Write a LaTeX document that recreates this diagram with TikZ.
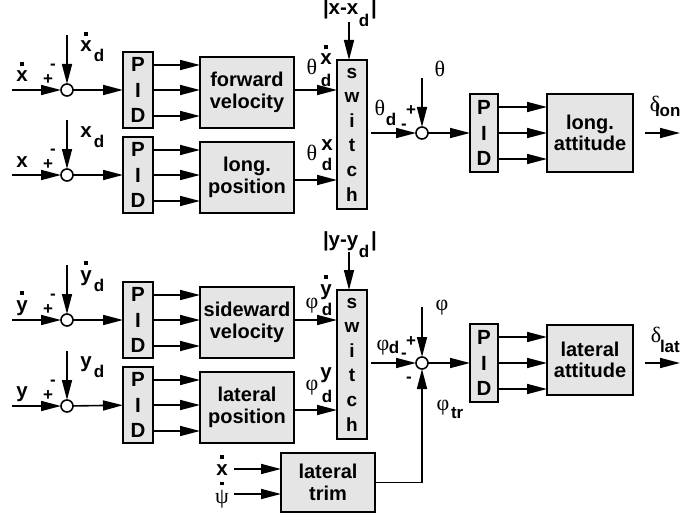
\documentclass[tikz,border=0pt]{standalone}
\usepackage{fontspec}
\setmainfont{Liberation Sans}
\newfontfamily\grk{Liberation Serif}
\usetikzlibrary{arrows.meta}
\definecolor{boxgray}{RGB}{229,229,229}
\newcommand\dotover[1]{\ooalign{#1\cr\hidewidth\raisebox{0.8em}{\rule{3.2pt}{3.2pt}}\hidewidth\cr}}
\begin{document}
\begin{tikzpicture}[x=1pt,y=-1pt,
  line width=1.6pt,
  >={Triangle[length=20pt,width=10pt]},
  every node/.style={inner sep=0pt,outer sep=0pt},
  blk/.style={draw,line width=1.9pt,fill=boxgray,align=center,font=\fontsize{20}{21.5}\selectfont\bfseries},
  pid/.style={blk,minimum width=30pt,minimum height=76pt,font=\fontsize{20.5}{25.5}\selectfont\bfseries},
  swb/.style={blk,minimum width=30pt,minimum height=149pt,font=\fontsize{19}{24.6}\selectfont\bfseries},
  sum/.style={circle,draw,fill=white,line width=1.6pt,minimum size=12pt},
  v/.style={anchor=base,font=\fontsize{20.5}{22}\selectfont\bfseries},
  sb/.style={anchor=base,font=\fontsize{17}{19}\selectfont\bfseries},
  sg/.style={font=\fontsize{17}{19}\selectfont\bfseries},
  gk/.style={anchor=base,font=\fontsize{22}{24}\selectfont\grk}]
\useasboundingbox (0,0) rectangle (687,516);

% summing junctions
\node[sum] (cA) at (67,90) {};
\node[sum] (cB) at (67,175) {};
\node[sum] (cC) at (67,320) {};
\node[sum] (cD) at (67,406) {};
\node[sum] (cE) at (422,133) {};
\node[sum] (cF) at (422,363) {};

% PID blocks
\node[pid] (p1) at (138,90) {P\\I\\D};
\node[pid] (p2) at (138,175) {P\\I\\D};
\node[pid] (p4) at (138,320) {P\\I\\D};
\node[pid] (p5) at (138,405) {P\\I\\D};
\node[pid,minimum width=28pt,minimum height=78pt] (p3) at (484,133) {P\\I\\D};
\node[pid,minimum width=28pt,minimum height=78pt] (p6) at (484,363) {P\\I\\D};

% blocks
\node[blk,minimum width=94pt,minimum height=71pt] (fv) at (247,92.5) {forward\\velocity};
\node[blk,minimum width=94pt,minimum height=71pt] (lp) at (247,177.5) {long.\\position};
\node[blk,minimum width=94pt,minimum height=71pt] (sv) at (247,322.5) {sideward\\velocity};
\node[blk,minimum width=94pt,minimum height=71pt] (lpos) at (247,407.5) {lateral\\position};
\node[blk,minimum width=86pt,minimum height=78pt] (la) at (590,133) {long.\\attitude};
\node[blk,minimum width=86pt,minimum height=70pt] (lat) at (590,360) {lateral\\attitude};
\node[blk,minimum width=94pt,minimum height=59pt] (trim) at (328,482.5) {lateral\\trim};
\node[swb] (s1) at (352,134.5) {s\\w\\i\\t\\c\\h};
\node[swb] (s2) at (352,364.5) {s\\w\\i\\t\\c\\h};

% free ends
\coordinate (iA) at (12,90);
\coordinate (iB) at (12,175);
\coordinate (iC) at (12,320);
\coordinate (iD) at (12,406);
\coordinate (tA) at (67,35);
\coordinate (tB) at (67,120);
\coordinate (tC) at (67,265);
\coordinate (tD) at (67,351);
\coordinate (tS1) at (349,22);
\coordinate (tS2) at (349,252);
\coordinate (tE) at (422,78);
\coordinate (tF) at (422,307);
\coordinate (oA) at (680,133);
\coordinate (oB) at (680,363);
\coordinate (ix) at (234,469);
\coordinate (ipsi) at (234,494);

% left inputs
\draw[->] (iA) -- (cA);
\draw[->] (iB) -- (cB);
\draw[->] (iC) -- (cC);
\draw[->] (iD) -- (cD);
\draw[->] (tA) -- (cA);
\draw[->] (tB) -- (cB);
\draw[->] (tC) -- (cC);
\draw[->] (tD) -- (cD);
\draw[->] (cA) -- (p1);
\draw[->] (cB) -- (p2);
\draw[->] (cC) -- (p4);
\draw[->] (cD) -- (p5);

% PID to blocks
\foreach \s in {25,0,-26} {
  \draw[->] ([yshift=\s pt]p1.east) -- ([yshift=\s pt]p1.east -| fv.west);
  \draw[->] ([yshift=\s pt]p2.east) -- ([yshift=\s pt]p2.east -| lp.west);
  \draw[->] ([yshift=\s pt]p4.east) -- ([yshift=\s pt]p4.east -| sv.west);
  \draw[->] ([yshift=\s pt]p5.east) -- ([yshift=\s pt]p5.east -| lpos.west);
}
\foreach \s in {26,0,-26} {
  \draw[->] ([yshift=\s pt]p3.east) -- ([yshift=\s pt]p3.east -| la.west);
  \draw[->] ([yshift=\s pt]p6.east) -- ([yshift=\s pt]p6.east -| lat.west);
}

% blocks to switches
\draw[->] (fv.east |- cA) -- (s1.west |- cA);
\draw[->] ([yshift=-2.5pt]lp.east) -- ([yshift=-2.5pt]lp.east -| s1.west);
\draw[->] ([yshift=2.5pt]sv.east) -- ([yshift=2.5pt]sv.east -| s2.west);
\draw[->] ([yshift=-2.5pt]lpos.east) -- ([yshift=-2.5pt]lpos.east -| s2.west);
\draw[->] (tS1) -- (tS1 |- s1.north);
\draw[->] (tS2) -- (tS2 |- s2.north);

% switch to attitude loops
\draw[->,shorten <=4pt] (s1.east |- cE) -- (cE);
\draw[->,shorten <=4pt] (s2.east |- cF) -- (cF);
\draw[->] (tE) -- (cE);
\draw[->] (tF) -- (cF);
\draw[->] (cE) -- (p3);
\draw[->] (cF) -- (p6);
\draw[->,shorten <=12pt] (la.east |- oA) -- (oA);
\draw[->,shorten <=12pt] (lat.east |- oB) -- (oB);

% lateral trim
\draw[->] (ix) -- (ix -| trim.west);
\draw[->] (ipsi) -- (ipsi -| trim.west);
\draw[->] (trim.east) -| (cF);

% labels row 1
\node[v] at (22,82) {\dotover{x}};
\node[sg] at (48,80) {+};
\node[sg] at (53,67) {-};
\node[v] at (86,52) {\dotover{x}};
\node[sb] at (99,62) {d};
% row 2
\node[v] at (22,167) {x};
\node[sg] at (48,165) {+};
\node[sg] at (53,152) {-};
\node[v] at (86,137) {x};
\node[sb] at (99,147) {d};
% row 3
\node[v] at (22,311) {\dotover{y}};
\node[sg] at (48,310) {+};
\node[sg] at (53,297) {-};
\node[v] at (86,281) {\dotover{y}};
\node[sb] at (99,291) {d};
% row 4
\node[v] at (22,397) {y};
\node[sg] at (48,396) {+};
\node[sg] at (53,383) {-};
\node[v] at (86,367) {y};
\node[sb] at (99,377) {d};

% switch labels
\node[v,anchor=base west] at (323,15) {|x-x};
\node[sb] at (364,27) {d};
\node[v] at (374,15) {|};
\node[v,anchor=base west] at (323,246) {|y-y};
\node[sb] at (364,257) {d};
\node[v] at (374,246) {|};

\node[gk] at (312,75) {θ};
\node[v] at (326,65) {\dotover{x}};
\node[sb] at (326,87) {d};
\node[gk] at (312,160) {θ};
\node[v] at (327,150) {x};
\node[sb] at (327,170) {d};

\node[gk] at (312,308) {φ};
\node[v] at (326,295) {\dotover{y}};
\node[sb] at (327,315) {d};
\node[gk] at (312,390) {φ};
\node[v] at (326,378) {y};
\node[sb] at (327,402) {d};

% attitude loop labels
\node[gk] at (380,115) {θ};
\node[sb] at (391,125) {d};
\node[sg] at (411,111) {+};
\node[sg] at (404,127) {-};
\node[gk] at (440,77) {θ};

\node[gk] at (383,350) {φ};
\node[sb] at (394,353) {d};
\node[sg] at (411,342) {+};
\node[sg] at (404,356) {-};
\node[sg] at (409,380) {-};
\node[gk] at (442,310) {φ};
\node[gk] at (443,410) {φ};
\node[sb,anchor=base west] at (451,418) {tr};

\node[gk] at (655,111) {δ};
\node[sb,anchor=base west] at (655,117) {lon};
\node[gk] at (656,342) {δ};
\node[sb,anchor=base west] at (660,352) {lat};

% trim inputs
\node[v] at (222,475) {\dotover{x}};
\node[gk] at (222,503) {\dotover{ψ}};
\end{tikzpicture}
\end{document}
